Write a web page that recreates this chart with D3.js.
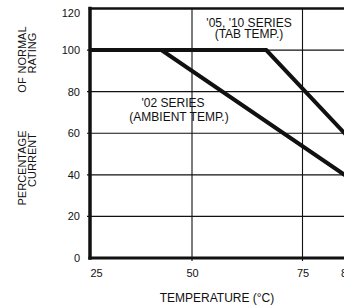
<!DOCTYPE html>
<html>
<head>
  <meta charset="utf-8">
  <script src="https://d3js.org/d3.v7.min.js"></script>
  <style>
    body { margin: 0; background: #fff; }
    svg text { font-family: "Liberation Sans", Arial, sans-serif; fill: #111; }
  </style>
</head>
<body>
  <svg id="chart"></svg>
  <script>
    // data
    var xTicks = [25, 50, 75, 85];
    var yTicks = [0, 20, 40, 60, 80, 100, 120];
    var xGrid = [50, 75];
    var series02 = [[25, 100], [42.5, 100], [84.5, 40], [90, 32]];
    var series05 = [[25, 100], [66.8, 100], [84.5, 60], [90, 48]];
    var label02 = ["'02 SERIES", "(AMBIENT TEMP.)"];
    var label05 = ["'05, '10 SERIES", "(TAB TEMP.)"];
    var yTitle1 = ["PERCENTAGE", "OF", "NORMAL"];
    var yTitle2 = ["CURRENT", "RATING"];
    var xTitle = "TEMPERATURE (°C)";

    var W = 344, H = 307;
    var mLeft = 90, mRight = 344, mTop = 8.5, mBottom = 258;

    var svg = d3.select("#chart").attr("width", W).attr("height", H);

    // the scan is a bit stretched at the left end, so piecewise x scale
    var x = d3.scaleLinear().domain([25, 50, 75]).range([mLeft, 192, 302.5]);
    var y = d3.scaleLinear().domain([0, 120]).range([mBottom, mTop]);

    // grid
    svg.append("g").selectAll("line")
      .data(yTicks.filter(function (d) { return d > 0 && d < 120; }))
      .join("line")
      .attr("x1", mLeft - 3).attr("x2", mRight)
      .attr("y1", function (d) { return y(d); })
      .attr("y2", function (d) { return y(d); })
      .attr("stroke", "#111").attr("stroke-width", 1.1);

    svg.append("g").selectAll("line")
      .data(xGrid)
      .join("line")
      .attr("x1", function (d) { return x(d); })
      .attr("x2", function (d) { return x(d); })
      .attr("y1", mTop).attr("y2", mBottom + 3)
      .attr("stroke", "#111").attr("stroke-width", 1.1);

    // frame: left, bottom, top
    var frame = svg.append("g").attr("stroke", "#111").attr("stroke-linecap", "square");
    frame.append("line").attr("x1", mLeft).attr("x2", mLeft).attr("y1", mTop).attr("y2", mBottom).attr("stroke-width", 3.5);
    frame.append("line").attr("x1", mLeft).attr("x2", mRight).attr("y1", mBottom).attr("y2", mBottom).attr("stroke-width", 3.2);
    frame.append("line").attr("x1", mLeft).attr("x2", mRight).attr("y1", y(120)).attr("y2", y(120)).attr("stroke-width", 2.7);

    // axes labels
    var yAxis = d3.axisLeft(y).tickValues(yTicks).tickSize(0).tickPadding(10);
    var gy = svg.append("g").attr("transform", "translate(" + mLeft + ",0)").call(yAxis);
    gy.select(".domain").remove();
    gy.selectAll("text").style("font-size", "11px").style("font-family", null)
      .attr("y", function (d) { return d === 120 ? 4 : 0; }); // top label sits a bit lower in the scan

    var xAxis = d3.axisBottom(x).tickValues(xTicks).tickSize(0).tickPadding(11);
    var gx = svg.append("g").attr("transform", "translate(0," + mBottom + ")").call(xAxis);
    gx.select(".domain").remove();
    gx.selectAll("text").style("font-size", "11px").style("font-family", null)
      .attr("text-anchor", function (d, i) { return i === 0 ? "start" : "middle"; });

    // series
    var line = d3.line()
      .x(function (d) { return x(d[0]); })
      .y(function (d) { return y(d[1]); });

    svg.append("g").selectAll("path")
      .data([series02, series05])
      .join("path")
      .attr("d", line)
      .attr("fill", "none")
      .attr("stroke", "#111")
      .attr("stroke-width", 4)
      .attr("stroke-linejoin", "miter");

    // series labels
    svg.append("g").selectAll("text")
      .data(label05).join("text")
      .attr("x", 249).attr("y", function (d, i) { return 26.5 + i * 11; })
      .attr("text-anchor", "middle").style("font-size", "12px")
      .text(function (d) { return d; });

    var l02x = [173, 179];
    svg.append("g").selectAll("text")
      .data(label02).join("text")
      .attr("x", function (d, i) { return l02x[i]; })
      .attr("y", function (d, i) { return 106.5 + i * 14.5; })
      .attr("text-anchor", "middle").style("font-size", "12px")
      .text(function (d) { return d; });

    // axis titles
    svg.append("text")
      .attr("x", 217).attr("y", 302)
      .attr("text-anchor", "middle").style("font-size", "12px")
      .text(xTitle);

    var t1Pos = [168, 85, 50];
    svg.append("g").selectAll("text")
      .data(yTitle1).join("text")
      .attr("transform", function (d, i) { return "translate(25.5," + t1Pos[i] + ") rotate(-90)"; })
      .attr("text-anchor", "middle").style("font-size", "11px")
      .text(function (d) { return d; });

    var t2Pos = [160, 53];
    svg.append("g").selectAll("text")
      .data(yTitle2).join("text")
      .attr("transform", function (d, i) { return "translate(35.5," + t2Pos[i] + ") rotate(-90)"; })
      .attr("text-anchor", "middle").style("font-size", "11px")
      .text(function (d) { return d; });
  </script>
</body>
</html>
